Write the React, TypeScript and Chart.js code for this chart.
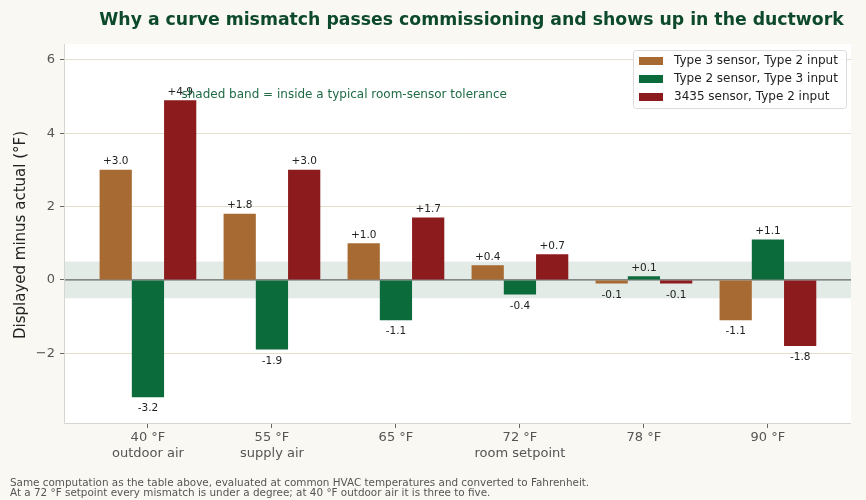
import { useEffect, useRef } from "react";
import { Chart, registerables } from "chart.js";

Chart.register(...registerables);

const categories: string[][] = [
  ["40 °F", "outdoor air"],
  ["55 °F", "supply air"],
  ["65 °F"],
  ["72 °F", "room setpoint"],
  ["78 °F"],
  ["90 °F"],
];
const seriesNames = [
  "Type 3 sensor, Type 2 input",
  "Type 2 sensor, Type 3 input",
  "3435 sensor, Type 2 input",
];
const type3SensorType2Input = [3.0, 1.8, 1.0, 0.4, -0.1, -1.1];
const type2SensorType3Input = [-3.2, -1.9, -1.1, -0.4, 0.1, 1.1];
const sensor3435Type2Input = [4.9, 3.0, 1.7, 0.7, -0.1, -1.8];
const yTickValues = [-2, 0, 2, 4, 6];
const toleranceBand = 0.5;
const seriesColors = ["#a66a32", "#0b6b3b", "#8b1b1d"];

const titleText = "Why a curve mismatch passes commissioning and shows up in the ductwork";
const yTitle = "Displayed minus actual (°F)";
const bandNote = "shaded band = inside a typical room-sensor tolerance";
const footerLines = [
  "Same computation as the table above, evaluated at common HVAC temperatures and converted to Fahrenheit.",
  "At a 72 °F setpoint every mismatch is under a degree; at 40 °F outdoor air it is three to five.",
];

const FONT = "'DejaVu Sans', sans-serif";

export default function App() {
  const ref = useRef<HTMLCanvasElement | null>(null);

  useEffect(() => {
    document.body.style.margin = "0";
    document.body.style.background = "#f9f8f3";
    const canvas = ref.current;
    if (!canvas) return;

    const allSeries = [type3SensorType2Input, type2SensorType3Input, sensor3435Type2Input];

    const decorPlugin = {
      id: "decor",
      beforeDraw(chart: any) {
        const { ctx, chartArea: a } = chart;
        ctx.save();
        ctx.fillStyle = "#f9f8f3";
        ctx.fillRect(0, 0, chart.width, chart.height);
        ctx.fillStyle = "#ffffff";
        ctx.fillRect(a.left, a.top, a.right - a.left, a.bottom - a.top);
        ctx.restore();
      },
      beforeDatasetsDraw(chart: any) {
        const { ctx, chartArea: a, scales } = chart;
        const y = scales.y;
        ctx.save();
        const yt = y.getPixelForValue(toleranceBand);
        const yb = y.getPixelForValue(-toleranceBand);
        ctx.fillStyle = "#e3ebe7";
        ctx.fillRect(a.left, yt, a.right - a.left, yb - yt);
        const y0 = y.getPixelForValue(0);
        ctx.strokeStyle = "#666666";
        ctx.lineWidth = 1.3;
        ctx.beginPath();
        ctx.moveTo(a.left, y0);
        ctx.lineTo(a.right, y0);
        ctx.stroke();
        ctx.restore();
      },
      afterDatasetsDraw(chart: any) {
        const { ctx, scales } = chart;
        ctx.save();
        ctx.font = `10.5px ${FONT}`;
        ctx.fillStyle = "#222222";
        ctx.textAlign = "center";
        chart.data.datasets.forEach((ds: any, di: number) => {
          const meta = chart.getDatasetMeta(di);
          meta.data.forEach((el: any, i: number) => {
            const v = allSeries[di][i];
            const txt = (v >= 0 ? "+" : "-") + Math.abs(v).toFixed(1);
            if (v >= 0) {
              ctx.textBaseline = "bottom";
              ctx.fillText(txt, el.x, el.y - 3);
            } else {
              ctx.textBaseline = "top";
              ctx.fillText(txt, el.x, el.y + 6);
            }
          });
        });
        // band note
        ctx.font = `12px ${FONT}`;
        ctx.fillStyle = "#1f6b45";
        ctx.textAlign = "left";
        ctx.textBaseline = "bottom";
        ctx.fillText(bandNote, scales.x.getPixelForValue(0.27), scales.y.getPixelForValue(4.88));
        ctx.restore();
      },
      afterDraw(chart: any) {
        const { ctx, chartArea: a } = chart;
        ctx.save();
        // axes spines
        ctx.strokeStyle = "#d6d6d0";
        ctx.lineWidth = 1;
        ctx.beginPath();
        ctx.moveTo(a.left + 0.5, a.top);
        ctx.lineTo(a.left + 0.5, a.bottom + 0.5);
        ctx.lineTo(a.right, a.bottom + 0.5);
        ctx.stroke();

        // title
        ctx.font = `bold 17.3px ${FONT}`;
        ctx.fillStyle = "#0d4a2c";
        ctx.textAlign = "center";
        ctx.textBaseline = "middle";
        ctx.fillText(titleText, 471.5, 21);

        // y title
        ctx.save();
        ctx.translate(21, 235);
        ctx.rotate(-Math.PI / 2);
        ctx.font = `15px ${FONT}`;
        ctx.fillStyle = "#222222";
        ctx.textAlign = "center";
        ctx.textBaseline = "middle";
        ctx.fillText(yTitle, 0, 0);
        ctx.restore();

        // legend
        const lx = a.right - 218, ly = a.top + 6, lw = 213, lh = 58;
        ctx.fillStyle = "rgba(255,255,255,0.85)";
        ctx.strokeStyle = "#dcdcdc";
        ctx.lineWidth = 1;
        ctx.beginPath();
        (ctx as any).roundRect(lx + 0.5, ly + 0.5, lw, lh, 3);
        ctx.fill();
        ctx.stroke();
        ctx.font = `12px ${FONT}`;
        ctx.textAlign = "left";
        ctx.textBaseline = "middle";
        seriesNames.forEach((n, i) => {
          const cy = ly + 11 + i * 18;
          ctx.fillStyle = seriesColors[i];
          ctx.fillRect(lx + 6, cy - 4, 24, 8);
          ctx.fillStyle = "#222222";
          ctx.fillText(n, lx + 41, cy);
        });

        // footer
        ctx.font = `10.4px ${FONT}`;
        ctx.fillStyle = "#555555";
        ctx.textAlign = "left";
        ctx.textBaseline = "middle";
        footerLines.forEach((l, i) => ctx.fillText(l, 10, 483 + i * 10));
        ctx.restore();
      },
    };

    const chart = new Chart(canvas, {
      type: "bar",
      data: {
        datasets: allSeries.map((s, di) => ({
          label: seriesNames[di],
          data: s.map((v, i) => ({ x: i, y: v })),
          backgroundColor: seriesColors[di],
          borderWidth: 0,
          categoryPercentage: 0.78,
          barPercentage: 1,
        })),
      },
      options: {
        responsive: false,
        animation: false,
        layout: { padding: { left: 0, right: 15, top: 44, bottom: 0 } },
        plugins: { legend: { display: false }, tooltip: { enabled: false }, title: { display: false } },
        scales: {
          x: {
            type: "linear",
            offset: false,
            min: -0.677,
            max: 5.67,
            afterBuildTicks(scale: any) {
              scale.ticks = categories.map((_, i) => ({ value: i }));
            },
            afterFit(scale: any) {
              scale.height = 77;
            },
            ticks: {
              autoSkip: false,
              maxRotation: 0,
              padding: 2,
              color: "#555555",
              font: { family: FONT, size: 13 },
              callback: (v: any) => categories[Math.round(Number(v))] ?? "",
            },
            grid: { offset: false, drawOnChartArea: false, drawTicks: true, tickLength: 5, color: "#666666" },
            border: { display: false },
          },
          y: {
            min: -3.9,
            max: 6.43,
            afterBuildTicks(scale: any) {
              scale.ticks = yTickValues.map((v) => ({ value: v }));
            },
            afterFit(scale: any) {
              scale.width = 64;
            },
            ticks: {
              padding: 5,
              color: "#555555",
              font: { family: FONT, size: 13 },
              callback: (v: any) => (Number(v) < 0 ? "\u2212" + Math.abs(Number(v)) : String(v)),
            },
            grid: { color: "#e4e0cc", tickColor: "#666666", tickLength: 4, lineWidth: 1 },
            border: { display: false },
          },
        },
      },
      plugins: [decorPlugin],
    });

    return () => chart.destroy();
  }, []);

  return (
    <div style={{ width: 866, height: 500, background: "#f9f8f3" }}>
      <canvas ref={ref} width={866} height={500} style={{ display: "block" }} />
    </div>
  );
}
